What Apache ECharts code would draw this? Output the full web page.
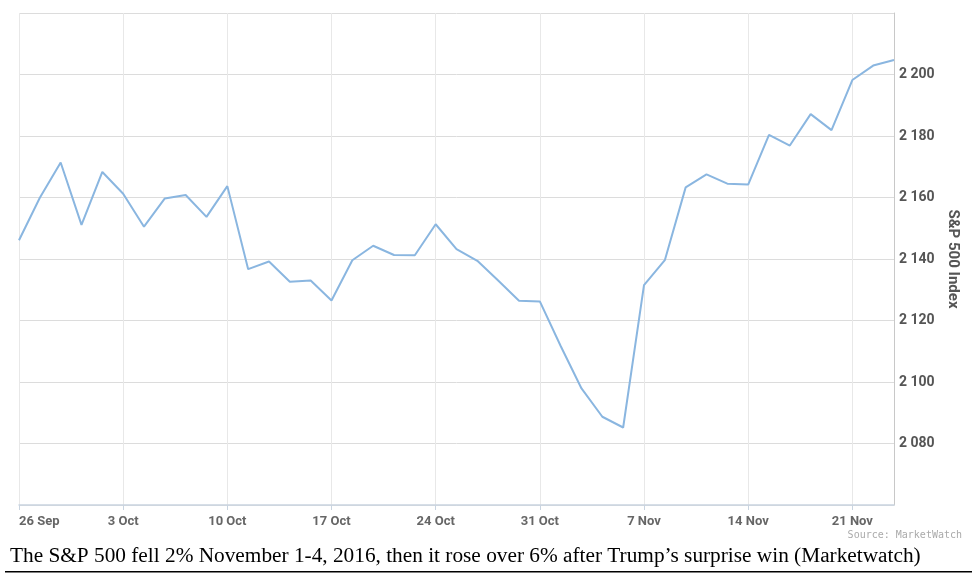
<!DOCTYPE html>
<html><head><meta charset="utf-8">
<script src="https://cdn.jsdelivr.net/npm/echarts@6/dist/echarts.min.js"></script>
<style>html,body{margin:0;padding:0;background:#fff;}#c{width:972px;height:578px;}</style>
</head><body><div id="c"></div>
<script>
const dates = ['26 Sep','27 Sep','28 Sep','29 Sep','30 Sep',
  '3 Oct','4 Oct','5 Oct','6 Oct','7 Oct',
  '10 Oct','11 Oct','12 Oct','13 Oct','14 Oct',
  '17 Oct','18 Oct','19 Oct','20 Oct','21 Oct',
  '24 Oct','25 Oct','26 Oct','27 Oct','28 Oct',
  '31 Oct','1 Nov','2 Nov','3 Nov','4 Nov',
  '7 Nov','8 Nov','9 Nov','10 Nov','11 Nov',
  '14 Nov','15 Nov','16 Nov','17 Nov','18 Nov',
  '21 Nov','22 Nov','23 Nov'];
const spx = [2146.1,2159.9,2171.4,2151.1,2168.3,
  2161.2,2150.5,2159.7,2160.8,2153.7,
  2163.7,2136.7,2139.2,2132.6,2133.0,
  2126.5,2139.6,2144.3,2141.3,2141.2,
  2151.3,2143.2,2139.4,2133.0,2126.4,
  2126.2,2111.7,2097.9,2088.7,2085.2,
  2131.5,2139.6,2163.3,2167.5,2164.5,
  2164.2,2180.4,2176.9,2187.1,2181.9,
  2198.2,2202.9,2204.7];
const yTicks = [2080,2100,2120,2140,2160,2180,2200];
const caption = 'The S&P 500 fell 2% November 1-4, 2016, then it rose over 6% after Trump\u2019s surprise win (Marketwatch)';
const source = 'Source: MarketWatch';

const chart = echarts.init(document.getElementById('c'), null, {renderer:'canvas'});
chart.setOption({
  animation:false,
  grid:{left:19,right:78,top:13,bottom:73},
  xAxis:{
    type:'category', data:dates, boundaryGap:false,
    axisLine:{lineStyle:{color:'#c9d4e0',width:1.5}},
    axisTick:{interval:4,length:5,lineStyle:{color:'#c9d4e0'}},
    axisLabel:{interval:4,color:'#666',fontFamily:'Roboto',fontWeight:'bold',fontSize:13,margin:10,alignMinLabel:'left'},
    splitLine:{show:true,interval:4,lineStyle:{color:'#e8e8e8'}}
  },
  yAxis:{
    type:'value', position:'right', min:2060, max:2220, interval:20,
    axisLine:{show:true,lineStyle:{color:'#c8c8c8'}},
    axisTick:{show:false},
    axisLabel:{color:'#555',fontFamily:'Roboto',fontWeight:'bold',fontSize:14,margin:5,
      formatter:v=> yTicks.includes(v) ? String(v).replace(/\B(?=(\d{3})+(?!\d))/g,' ') : ''},
    splitLine:{lineStyle:{color:'#dcdcdc'}},
    name:'S&P 500 Index', nameLocation:'middle', nameRotate:-90, nameGap:48,
    nameTextStyle:{color:'#555',fontFamily:'Roboto',fontWeight:'bold',fontSize:15}
  },
  series:[{type:'line',data:spx,symbol:'none',lineStyle:{color:'#8ab6e0',width:2}}],
  graphic:[
    {type:'text',right:10,top:530,style:{text:source,fill:'#aaa',font:'10px "DejaVu Sans Mono"'}},
    {type:'text',left:10,top:546,style:{text:caption,fill:'#000',font:'21.3px "Liberation Serif"'}},
    {type:'rect',shape:{x:5,y:571,width:967,height:1.5},style:{fill:'#000'}}
  ]
});
</script></body></html>
